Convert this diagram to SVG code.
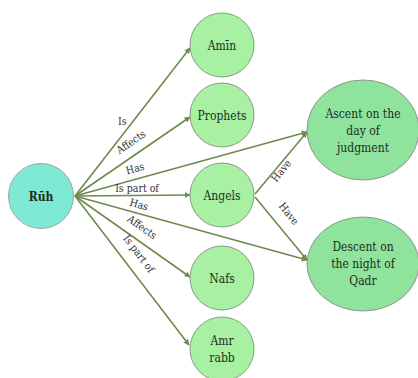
<svg xmlns="http://www.w3.org/2000/svg" width="418" height="378" viewBox="0 0 418 378">
<style>
.edge{stroke:#6f8a4e;stroke-width:1.6;fill:none}
.node{fill:#a8f0a2;stroke:#8a9a88;stroke-width:1}
.big{fill:#8fe39c;stroke:#8a9a88;stroke-width:1}
text{font-family:'DejaVu Serif Condensed','DejaVu Serif','Liberation Serif',serif;font-stretch:condensed}
.lbl{font-size:10.5px;fill:#333}
.txt{font-size:12px;fill:#1c2e1c;text-anchor:middle}
</style>
<defs>
<marker id="arr" viewBox="0 0 10 10" refX="9" refY="5" markerWidth="6" markerHeight="6" orient="auto" markerUnits="userSpaceOnUse">
<path d="M0,0 L10,5 L0,10 z" fill="#6f8a4e"/>
</marker>
</defs>
<rect width="418" height="378" fill="#ffffff"/>
<g id="connectors">
<line class="edge" x1="75" y1="196" x2="190" y2="48" marker-end="url(#arr)"/>
<line class="edge" x1="75" y1="196" x2="190" y2="117" marker-end="url(#arr)"/>
<line class="edge" x1="75" y1="196" x2="307" y2="132" marker-end="url(#arr)"/>
<line class="edge" x1="75" y1="196" x2="190" y2="195" marker-end="url(#arr)"/>
<line class="edge" x1="75" y1="196" x2="307" y2="260" marker-end="url(#arr)"/>
<line class="edge" x1="75" y1="196" x2="190" y2="277" marker-end="url(#arr)"/>
<line class="edge" x1="75" y1="196" x2="189" y2="345" marker-end="url(#arr)"/>
<line class="edge" x1="255" y1="194" x2="307" y2="132" marker-end="url(#arr)"/>
<line class="edge" x1="255" y1="197" x2="307" y2="260" marker-end="url(#arr)"/>
<text class="lbl" x="118" y="125">Is</text>
<text class="lbl" text-anchor="middle" transform="translate(133,145) rotate(-34.5)">Affects</text>
<text class="lbl" text-anchor="middle" transform="translate(136,172) rotate(-15.4)">Has</text>
<text class="lbl" text-anchor="middle" x="137" y="192">Is part of</text>
<text class="lbl" text-anchor="middle" transform="translate(138,208) rotate(15.4)">Has</text>
<text class="lbl" text-anchor="middle" transform="translate(140,230) rotate(35)">Affects</text>
<text class="lbl" text-anchor="middle" transform="translate(136,256) rotate(52.8)">Is part of</text>
<text class="lbl" text-anchor="middle" transform="translate(284,173) rotate(-51)">Have</text>
<text class="lbl" text-anchor="middle" transform="translate(286,216) rotate(51)">Have</text>
</g>
<g id="ruh">
<circle cx="41" cy="196" r="32.5" fill="#7ee9d4" stroke="#9aa8a4" stroke-width="1"/>
<text class="txt" x="41" y="201" font-weight="bold" font-size="14" fill="#1f3530">Rūh</text>
</g>
<g id="amin">
<circle class="node" cx="222" cy="45" r="32"/>
<text class="txt" x="222" y="50">Amīn</text>
</g>
<g id="prophets">
<circle class="node" cx="222" cy="115" r="32"/>
<text class="txt" x="222" y="120">Prophets</text>
</g>
<g id="angels">
<circle class="node" cx="222" cy="195" r="32"/>
<text class="txt" x="222" y="200">Angels</text>
</g>
<g id="nafs">
<circle class="node" cx="222" cy="278" r="32"/>
<text class="txt" x="222" y="283">Nafs</text>
</g>
<g id="amr-rabb">
<circle class="node" cx="222" cy="349" r="32"/>
<text class="txt" x="222" y="345">Amr</text>
<text class="txt" x="222" y="362">rabb</text>
</g>
<g id="ascent">
<ellipse class="big" cx="363" cy="130" rx="56" ry="50"/>
<text class="txt" x="363" y="118">Ascent on the</text>
<text class="txt" x="363" y="135">day of</text>
<text class="txt" x="363" y="152">judgment</text>
</g>
<g id="descent">
<ellipse class="big" cx="363" cy="264" rx="56" ry="47"/>
<text class="txt" x="363" y="251">Descent on</text>
<text class="txt" x="363" y="268">the night of</text>
<text class="txt" x="363" y="285">Qadr</text>
</g>
</svg>
